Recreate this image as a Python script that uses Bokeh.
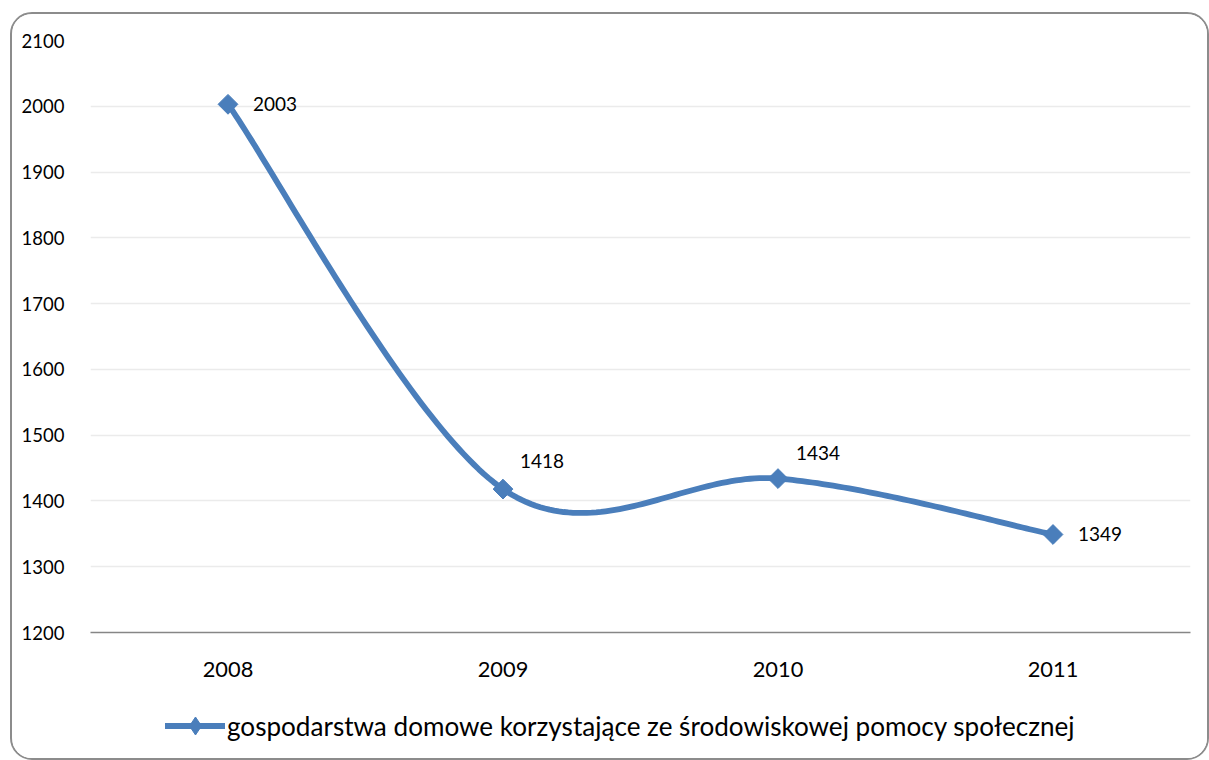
import numpy as np
from bokeh.plotting import figure
from bokeh.layouts import column
from bokeh.models import (Range1d, FixedTicker, Legend, LegendItem,
                          ColumnDataSource, LabelSet)
from bokeh.core.properties import value
from bokeh.embed import file_html
from bokeh.resources import INLINE

# ---- data ----
years = ["2008", "2009", "2010", "2011"]
values = [2003, 1418, 1434, 1349]
y_ticks = [1200, 1300, 1400, 1500, 1600, 1700, 1800, 1900, 2000, 2100]
series_name = "gospodarstwa domowe korzystające ze środowiskowej pomocy społecznej"

# ---- styles (label offsets in px) ----
label_dx = [25, 17, 18, 25]
label_dy = [0, 28, 26, 0]

BLUE = "#4A7EBB"
FONT = "Lato"
W = 1195

xs = np.arange(len(years), dtype=float)
ys = np.array(values, dtype=float)

# Excel-like smoothed line (Catmull-Rom cubic Bezier through the points)
px = np.concatenate([[xs[0]], xs, [xs[-1]]])
py = np.concatenate([[ys[0]], ys, [ys[-1]]])
cx, cy = [], []
t = np.linspace(0, 1, 60)
for i in range(1, len(px) - 2):
    p0 = np.array([px[i], py[i]])
    p3 = np.array([px[i + 1], py[i + 1]])
    c1 = p0 + (np.array([px[i + 1], py[i + 1]]) - np.array([px[i - 1], py[i - 1]])) / 6.0
    c2 = p3 - (np.array([px[i + 2], py[i + 2]]) - np.array([px[i], py[i]])) / 6.0
    b = ((1 - t) ** 3)[:, None] * p0 + (3 * (1 - t) ** 2 * t)[:, None] * c1 \
        + (3 * (1 - t) * t ** 2)[:, None] * c2 + (t ** 3)[:, None] * p3
    cx.extend(b[:, 0].tolist())
    cy.extend(b[:, 1].tolist())

# ---------------- main chart ----------------
p = figure(width=W, height=670, output_backend="svg", toolbar_location=None,
           x_range=Range1d(-0.5, len(years) - 0.5),
           y_range=Range1d(y_ticks[0], y_ticks[-1]),
           min_border_left=78, min_border_right=17, min_border_top=26, min_border_bottom=52)

p.outline_line_color = None
p.background_fill_color = "white"
p.border_fill_color = "white"

p.xaxis.ticker = FixedTicker(ticks=list(xs))
p.xaxis.major_label_overrides = {i: y for i, y in enumerate(years)}
p.xaxis.axis_line_color = "#868686"
p.xaxis.axis_line_width = 1.5
p.xaxis.major_tick_line_color = None
p.xaxis.minor_tick_line_color = None
p.xaxis.major_label_standoff = 23
p.xaxis.major_label_text_font = FONT
p.xaxis.major_label_text_font_size = "21.8px"
p.xaxis.major_label_text_color = "black"

p.yaxis.ticker = FixedTicker(ticks=y_ticks)
p.yaxis.axis_line_color = None
p.yaxis.major_tick_line_color = None
p.yaxis.minor_tick_line_color = None
p.yaxis.major_label_standoff = 20
p.yaxis.major_label_text_font = FONT
p.yaxis.major_label_text_font_size = "18.5px"
p.yaxis.major_label_text_color = "black"

p.xgrid.grid_line_color = None
p.ygrid.grid_line_color = "#EBEBEB"
p.ygrid.grid_line_width = 1.5

line_kw = dict(line_color=BLUE, line_width=5.8, line_join="round", line_cap="round")

p.line(cx, cy, **line_kw)
p.scatter(xs, ys, marker="square", angle=np.pi / 4, size=14, fill_color=BLUE, line_color=BLUE)

src = ColumnDataSource(dict(x=xs, y=ys, text=[str(v) for v in values],
                            dx=label_dx, dy=label_dy))
labels = LabelSet(x="x", y="y", text="text", x_offset="dx", y_offset="dy", source=src,
                  text_font=value(FONT), text_font_size="19px", text_color="black",
                  text_baseline="middle", text_align="left")
p.add_layout(labels)

# ---------------- legend strip ----------------
lg = figure(width=W, height=74, output_backend="svg", toolbar_location=None,
            x_range=Range1d(-0.5, len(years) - 0.5),
            y_range=Range1d(y_ticks[0], y_ticks[-1]),
            x_axis_location=None, y_axis_location=None,
            min_border_left=0, min_border_right=0, min_border_top=0, min_border_bottom=0)
lg.outline_line_color = None
lg.xgrid.grid_line_color = None
lg.ygrid.grid_line_color = None
lg_line = lg.line(cx, cy, visible=False, **line_kw)
lg_mark = lg.scatter(xs, ys, visible=False, marker="diamond", size=20,
                     fill_color=BLUE, line_color=BLUE)

legend = Legend(items=[LegendItem(label=series_name, renderers=[lg_line, lg_mark])],
                location=(75, 10), orientation="horizontal",
                padding=0, margin=0, spacing=0, label_standoff=2,
                glyph_width=60, glyph_height=45, label_height=45,
                border_line_color=None, background_fill_alpha=0,
                label_text_font=FONT, label_text_font_size="26.1px", label_text_color="black")
lg.add_layout(legend, "center")

layout = column(p, lg, spacing=0)
layout.styles = {"margin-left": "10px", "margin-top": "12px",
                 "border": "2px solid #8C8C8C", "border-radius": "22px", "overflow": "hidden"}

open("out.html", "w").write(file_html(layout, INLINE))
